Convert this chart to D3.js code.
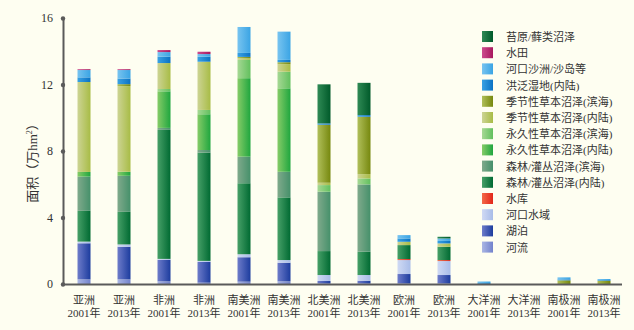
<!DOCTYPE html>
<html><head><meta charset="utf-8">
<script src="https://cdn.jsdelivr.net/npm/d3@7"></script>
<style>
html,body{margin:0;padding:0;background:#fefef1;}
svg{display:block;}
text{font-family:"Liberation Serif","Noto Sans CJK SC",serif;fill:#333;}
</style></head>
<body>
<svg id="c" width="634" height="330"></svg>
<script>
// ---- data ----
const continents = ["亚洲","亚洲","非洲","非洲","南美洲","南美洲","北美洲","北美洲","欧洲","欧洲","大洋洲","大洋洲","南极洲","南极洲"];
const years = ["2001年","2013年","2001年","2013年","2001年","2013年","2001年","2013年","2001年","2013年","2001年","2013年","2001年","2013年"];
const yTicks = [0,4,8,12,16];
// series, bottom to top
const seriesNames = ["河流","湖泊","河口水域","水库","森林/灌丛沼泽(内陆)","森林/灌丛沼泽(滨海)","永久性草本沼泽(内陆)","永久性草本沼泽(滨海)","季节性草本沼泽(内陆)","季节性草本沼泽(滨海)","洪泛湿地(内陆)","河口沙洲/沙岛等","水田","苔原/藓类沼泽"];
const river      = [0.28,0.28,0.16,0.08,0.14,0.16,0.06,0.06,0.04,0.04,0,0,0,0];
const lake       = [2.17,1.96,1.30,1.25,1.47,1.12,0.12,0.14,0.56,0.50,0,0,0,0];
const estuary    = [0.10,0.14,0.05,0.06,0.18,0.16,0.36,0.34,0.84,0.84,0,0,0,0];
const reservoir  = [0,0,0,0,0,0,0,0,0.06,0.06,0,0,0,0];
const forestIn   = [1.85,1.96,7.76,6.51,4.27,3.77,1.44,1.40,0.84,0.80,0,0,0,0];
const forestCo   = [2.06,2.17,0.12,0.16,1.60,1.54,3.57,4.05,0,0,0,0,0,0];
const permIn     = [0.28,0.24,2.20,2.15,4.72,5.02,0,0,0,0,0,0,0,0];
const permCo     = [0,0,0.14,0.26,1.10,1.00,0.40,0.36,0,0,0,0,0,0];
const seasIn     = [5.41,5.15,1.56,2.90,0.10,0.45,0.14,0.26,0.20,0.20,0,0,0,0];
const seasCo     = [0,0.12,0,0,0.08,0.12,3.49,3.45,0,0,0,0,0.22,0.20];
const flood      = [0.28,0.34,0.38,0.30,0.24,0.14,0.08,0.10,0.20,0.15,0.05,0,0.06,0.04];
const sandbar    = [0.44,0.51,0.28,0.16,1.56,1.70,0,0,0.20,0.15,0.10,0,0.12,0.06];
const paddy      = [0.05,0.05,0.12,0.14,0,0,0,0,0,0,0,0,0,0];
const tundra     = [0,0,0,0,0,0,2.35,1.94,0,0.10,0,0,0,0];
const seriesValues = [river,lake,estuary,reservoir,forestIn,forestCo,permIn,permCo,seasIn,seasCo,flood,sandbar,paddy,tundra];

// colours (left, right of gradient)
const colors = [
  ["#aab6e4","#7282cc"],
  ["#6e7cca","#1c3c9e"],
  ["#d0daf4","#a8bce8"],
  ["#f46a48","#e2261a"],
  ["#47a068","#006a32"],
  ["#80aa8c","#45906a"],
  ["#86cc68","#1fa63e"],
  ["#a6d894","#62c05e"],
  ["#cdd494","#a8bc46"],
  ["#b0bf5a","#76880e"],
  ["#3aa2e4","#0a72c4"],
  ["#78c4f0","#3aa4e4"],
  ["#cc4c8e","#a8185e"],
  ["#2f8a55","#005a2a"]
];

const W=634,H=330;
const svg=d3.select("#c");
svg.append("rect").attr("width",W).attr("height",H).attr("fill","#fefef1");
const defs=svg.append("defs");
colors.forEach((c,i)=>{
  const g=defs.append("linearGradient").attr("id","g"+i).attr("x1","0").attr("x2","1").attr("y1","0").attr("y2","0");
  g.append("stop").attr("offset","0").attr("stop-color",c[0]);
  g.append("stop").attr("offset","1").attr("stop-color",c[1]);
});

const idx=d3.range(continents.length);
const x=d3.scaleBand().domain(idx).range([64,624]).paddingInner(0.675).paddingOuter(0.3375);
const y=d3.scaleLinear().domain([0,16]).range([284,18]);

const rows=idx.map(i=>{const o={i};seriesNames.forEach((s,k)=>o[s]=seriesValues[k][i]);return o;});
const stack=d3.stack().keys(seriesNames)(rows);

const gBars=svg.append("g");
stack.forEach((layer,k)=>{
  gBars.selectAll(null).data(layer.filter(d=>d[1]-d[0]>0)).enter().append("rect")
    .attr("x",d=>x(d.data.i)).attr("width",x.bandwidth())
    .attr("y",d=>y(d[1])).attr("height",d=>y(d[0])-y(d[1]))
    .attr("fill","url(#g"+k+")");
});

// axes
const axisColor="#5a5a5a";
const yAxis=d3.axisLeft(y).tickValues(yTicks).tickSize(0).tickPadding(10).tickFormat(d3.format("d"));
const ga=svg.append("g").attr("transform","translate(63,0)").call(yAxis);
ga.select(".domain").attr("stroke",axisColor).attr("stroke-width",2);
ga.selectAll(".tick text").attr("font-size",12).attr("fill","#333").attr("font-family",'"Liberation Serif",serif');
ga.selectAll(".tick").append("circle").attr("r",2.2).attr("fill",axisColor);

svg.append("line").attr("x1",62).attr("x2",622).attr("y1",284.5).attr("y2",284.5)
  .attr("stroke",axisColor).attr("stroke-width",2);

// x labels
const gx=svg.append("g");
idx.forEach(i=>{
  const cx=x(i)+x.bandwidth()/2;
  gx.append("text").attr("x",cx).attr("y",304).attr("text-anchor","middle").attr("font-size",11).text(continents[i]);
  gx.append("text").attr("x",cx).attr("y",317).attr("text-anchor","middle").attr("font-size",11).text(years[i]);
});

// y title
const yt=svg.append("text").attr("transform","translate(37,160) rotate(-90)").attr("text-anchor","middle").attr("font-size",13);
yt.append("tspan").text("面积（万hm");
yt.append("tspan").attr("font-size",8).attr("dy",-5).text("2");
yt.append("tspan").attr("dy",5).text("）");

// legend (top to bottom = reverse of stack)
const lg=svg.append("g");
const order=d3.range(seriesNames.length).reverse();
order.forEach((k,j)=>{
  const yy=31+j*16.2;
  lg.append("rect").attr("x",482).attr("y",yy).attr("width",11).attr("height",11).attr("fill","url(#g"+k+")");
  lg.append("text").attr("x",506).attr("y",yy+10).attr("font-size",11).text(seriesNames[k]);
});
</script>
</body></html>
